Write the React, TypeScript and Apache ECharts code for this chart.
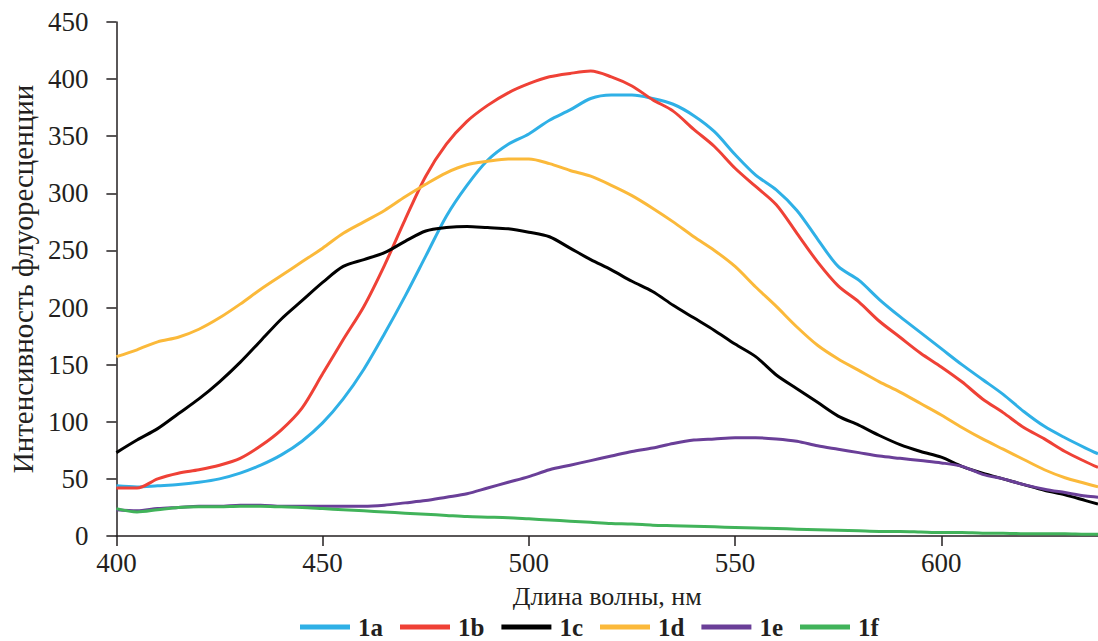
import React, { useEffect, useRef } from "react";
import * as echarts from "echarts";

const wavelengths = [
  400, 405, 410, 415, 420, 425, 430, 435, 440, 445, 450, 455, 460, 465, 470, 475, 480, 485, 490, 495,
  500, 505, 510, 515, 520, 525, 530, 535, 540, 545, 550, 555, 560, 565, 570, 575, 580, 585, 590, 595,
  600, 605, 610, 615, 620, 625, 630, 635, 638,
];

const s1a = [
  44, 43, 44, 45, 47, 50, 55, 62, 71, 83, 99, 120, 146, 177, 210, 245, 280, 307, 329, 343,
  352, 364, 373, 383, 386, 386, 383, 378, 368, 354, 334, 316, 303, 285, 260, 236, 224, 207, 192, 178,
  164, 150, 137, 124, 109, 96, 86, 77, 72,
];
const s1b = [
  42, 42, 50, 55, 58, 62, 68, 79, 93, 112, 142, 172, 201, 237, 277, 315, 343, 363, 377, 388,
  396, 402, 405, 407, 402, 394, 382, 372, 356, 341, 322, 306, 290, 265, 240, 219, 205, 188, 174, 160,
  148, 135, 120, 108, 95, 85, 74, 65, 60,
];
const s1c = [
  73, 84, 94, 107, 120, 135, 152, 171, 190, 206, 222, 236, 242, 248, 258, 267, 270, 271, 270, 269,
  266, 262, 252, 242, 233, 223, 214, 202, 191, 180, 168, 157, 141, 129, 117, 105, 97, 88, 80, 74,
  69, 61, 55, 50, 45, 40, 36, 31, 28,
];
const s1d = [
  157, 163, 170, 174, 181, 191, 203, 216, 228, 240, 252, 265, 275, 285, 297, 308, 318, 325, 328, 330,
  330, 326, 320, 315, 307, 298, 287, 275, 262, 250, 236, 218, 201, 183, 167, 155, 145, 135, 126, 116,
  106, 95, 85, 76, 67, 58, 51, 46, 43,
];
const s1e = [
  23, 22, 24, 25, 26, 26, 27, 27, 26, 26, 26, 26, 26, 27, 29, 31, 34, 37, 42, 47,
  52, 58, 62, 66, 70, 74, 77, 81, 84, 85, 86, 86, 85, 83, 79, 76, 73, 70, 68, 66,
  64, 61, 54, 50, 45, 41, 38, 35, 34,
];
const s1f = [
  24, 21, 23, 25, 25.5, 25.5, 26, 26, 25.5, 25, 24, 23, 22, 21, 20, 19, 18, 17, 16.5, 16,
  15, 14, 13, 12, 11, 10.5, 9.5, 9, 8.5, 8, 7.5, 7, 6.5, 6, 5.5, 5, 4.5, 4, 4, 3.5,
  3, 3, 2.5, 2.5, 2, 2, 2, 1.5, 1.5,
];

const seriesNames = ["1a", "1b", "1c", "1d", "1e", "1f"];
const seriesValues = [s1a, s1b, s1c, s1d, s1e, s1f];
const seriesColors = ["#2fb0e6", "#ef4136", "#000000", "#fbb93a", "#6a3f98", "#41b35a"];
const xTicks = [400, 450, 500, 550, 600];

const FONT = "Liberation Serif, Times New Roman, serif";
const INK = "#231f20";

export default function App() {
  const ref = useRef<HTMLDivElement>(null);

  useEffect(() => {
    if (!ref.current) return;
    const chart = echarts.init(ref.current, null, { renderer: "svg" });
    chart.setOption({
      animation: false,
      backgroundColor: "#ffffff",
      textStyle: { fontFamily: FONT },
      grid: { left: 113, right: 0, top: 22, bottom: 105, containLabel: false },
      legend: {
        data: seriesNames,
        top: 614,
        left: 300,
        padding: 0,
        icon: "rect",
        itemWidth: 50,
        itemHeight: 5,
        itemGap: 17,
        textStyle: { fontFamily: FONT, fontSize: 25, fontWeight: "bold", color: INK, lineHeight: 26, padding: [0, 0, 0, 3] },
      },
      xAxis: {
        type: "value",
        min: 400,
        max: 638,
        interval: 50,
        name: "Длина волны, нм",
        nameLocation: "middle",
        nameGap: 47,
        nameTextStyle: { fontFamily: FONT, fontSize: 26, color: INK },
        axisLine: { show: true, onZero: false, lineStyle: { color: INK, width: 1.5 } },
        axisTick: { show: true, inside: false, length: 10, lineStyle: { color: INK, width: 1.5 }, customValues: xTicks },
        axisLabel: { fontFamily: FONT, fontSize: 27, color: INK, margin: 13, customValues: xTicks },
        splitLine: { show: false },
      },
      yAxis: {
        type: "value",
        min: 0,
        max: 450,
        interval: 50,
        name: "Интенсивность флуоресценции",
        nameLocation: "middle",
        nameGap: 78,
        nameRotate: 90,
        nameTextStyle: { fontFamily: FONT, fontSize: 29, color: INK },
        axisLine: { show: true, lineStyle: { color: INK, width: 1.5 } },
        axisTick: { show: true, inside: false, length: 10, lineStyle: { color: INK, width: 1.5 } },
        axisLabel: { fontFamily: FONT, fontSize: 27, color: INK, margin: 28 },
        splitLine: { show: false },
      },
      series: seriesNames.map((name, i) => ({
        name,
        type: "line",
        showSymbol: false,
        smooth: 0.3,
        color: seriesColors[i],
        lineStyle: { width: 3, color: seriesColors[i] },
        data: wavelengths.map((w, j) => [w, seriesValues[i][j]]),
        z: 2 + i,
      })),
    });
    return () => chart.dispose();
  }, []);

  return (
    <div
      ref={ref}
      style={{ position: "fixed", left: 0, top: 0, width: 1098, height: 641, background: "#fff" }}
    />
  );
}
